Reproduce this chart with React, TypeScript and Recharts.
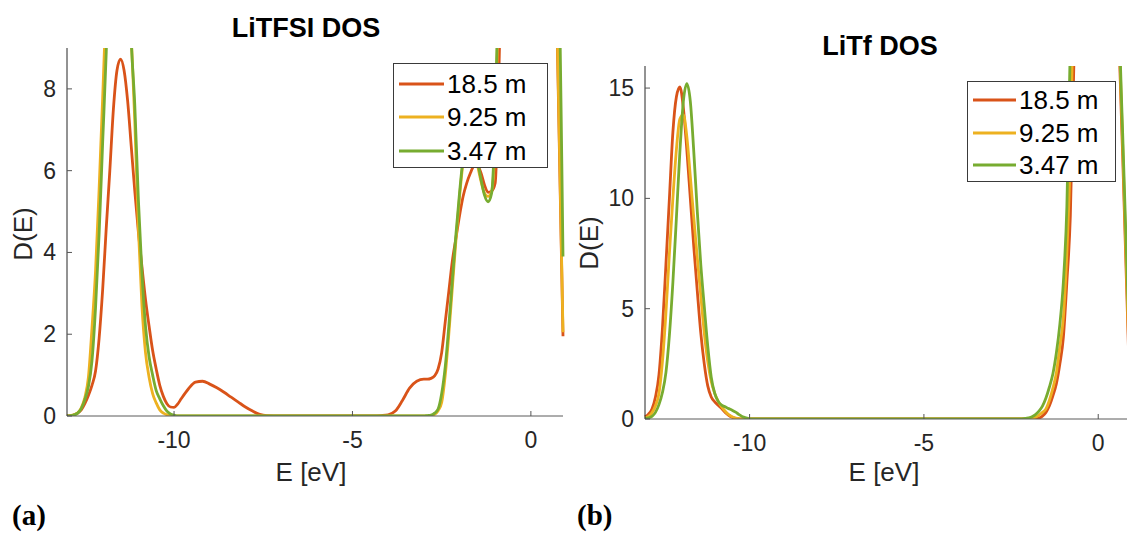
import React from 'react';
import { LineChart, Line, XAxis, YAxis, Legend } from 'recharts';

// LiTFSI: energy grid (eV) and D(E) for each concentration
const energyA = [
  -13.0, -12.9, -12.8, -12.7, -12.6, -12.5, -12.4, -12.3, -12.2, -12.1,
  -12.0, -11.9, -11.8, -11.7, -11.6, -11.5, -11.4, -11.3, -11.2, -11.1,
  -11.0, -10.9, -10.8, -10.7, -10.6, -10.5, -10.4, -10.3, -10.2, -10.1,
  -10.0, -9.9, -9.8, -9.6, -9.4, -9.2, -9.0, -8.8, -8.6, -8.4,
  -8.2, -8.0, -7.8, -7.6, -7.4, -7.0, -6.0, -5.0, -4.4, -4.2,
  -4.0, -3.8, -3.6, -3.4, -3.2, -3.0, -2.9, -2.8, -2.7, -2.6,
  -2.5, -2.4, -2.3, -2.2, -2.1, -2.0, -1.9, -1.8, -1.7, -1.6,
  -1.5, -1.4, -1.3, -1.2, -1.1, -1.0, -0.9, -0.8, -0.6, -0.3,
  0.0, 0.3, 0.6, 0.7, 0.9,
];
const dos185A = [
  0.0, 0.01, 0.03, 0.07, 0.15, 0.3, 0.5, 0.75, 1.1, 1.9,
  3.1, 4.6, 6.0, 7.5, 8.45, 8.73, 8.45, 7.7, 6.6, 5.5,
  4.5, 3.65, 2.85, 2.2, 1.6, 1.15, 0.75, 0.48, 0.3, 0.22,
  0.21, 0.29, 0.42, 0.66, 0.83, 0.85, 0.78, 0.69, 0.58, 0.46,
  0.34, 0.22, 0.12, 0.04, 0.01, 0, 0, 0, 0, 0.01,
  0.03, 0.12, 0.38, 0.68, 0.85, 0.9, 0.9, 0.92, 0.98, 1.15,
  1.55, 2.3, 3.05, 3.8, 4.35, 4.9, 5.37, 5.69, 5.93, 6.1,
  6.12, 5.95, 5.65, 5.47, 5.5, 5.7, 8.3, 12, 14, 15,
  15, 14, 12.5, 11, 1.95,
];
const dos925A = [
  0.0, 0.01, 0.03, 0.08, 0.2, 0.45, 0.95, 2.15, 3.55, 5.55,
  7.8, 10.2, 13, 15.5, 16.5, 16, 14, 11.5, 9.3, 7.2,
  4.6, 2.7, 1.55, 0.95, 0.55, 0.32, 0.15, 0.07, 0.03, 0.01,
  0, 0, 0, 0, 0, 0, 0, 0, 0, 0,
  0, 0, 0, 0, 0, 0, 0, 0, 0, 0,
  0, 0, 0, 0, 0, 0, 0, 0.01, 0.04, 0.13,
  0.33, 1.0, 2.0, 3.15, 4.3, 5.35, 6.2, 6.6, 6.7, 6.5,
  6.15, 5.75, 5.45, 5.37, 5.5, 6.8, 10.5, 13, 15, 16,
  15.5, 14.5, 13, 11.2, 2.05,
];
const dos347A = [
  0.0, 0.01, 0.03, 0.07, 0.18, 0.4, 0.72, 1.35, 2.65, 4.45,
  6.7, 8.9, 12, 15, 16.8, 16.5, 14.5, 12, 9.2, 7.6,
  5.3, 3.5, 2.2, 1.45, 1.0, 0.62, 0.42, 0.25, 0.12, 0.05,
  0.02, 0, 0, 0, 0, 0, 0, 0, 0, 0,
  0, 0, 0, 0, 0, 0, 0, 0, 0, 0,
  0, 0, 0, 0, 0, 0, 0.01, 0.02, 0.07, 0.17,
  0.55, 1.21, 2.2, 3.35, 4.45, 5.45, 6.3, 6.7, 6.8, 6.6,
  6.25, 5.8, 5.4, 5.24, 5.45, 7.3, 11, 14, 16, 17,
  16.5, 15.5, 14.5, 14, 3.9,
];

// LiTf: energy grid (eV) and D(E) for each concentration
const energyB = [
  -13.0, -12.9, -12.8, -12.7, -12.6, -12.5, -12.4, -12.3, -12.2, -12.1,
  -12.0, -11.9, -11.8, -11.7, -11.6, -11.5, -11.4, -11.3, -11.2, -11.1,
  -11.0, -10.9, -10.8, -10.7, -10.6, -10.5, -10.4, -10.3, -10.2, -10.1,
  -10.0, -9.8, -9.0, -7.0, -5.0, -3.0, -2.4, -2.2, -2.0, -1.9,
  -1.8, -1.7, -1.6, -1.5, -1.4, -1.3, -1.2, -1.1, -1.0, -0.9,
  -0.8, -0.7, -0.6, -0.3, 0.0, 0.3, 0.5, 0.6, 0.7, 0.9,
];
const dos185B = [
  0.1, 0.22, 0.45, 1.0, 2.0, 4.1, 7.0, 10.0, 13.0, 14.6,
  15.05, 14.1, 12.2, 10.0, 7.8, 5.8, 3.9, 2.5, 1.5, 1.0,
  0.78, 0.62, 0.47, 0.3, 0.17, 0.08, 0.03, 0.01, 0, 0,
  0, 0, 0, 0, 0, 0, 0, 0, 0, 0,
  0, 0.04, 0.13, 0.3, 0.6, 1.05, 1.6, 2.5, 3.7, 6.2,
  9.2, 16, 22, 28, 30, 28, 24, 17, 12, 1.5,
];
const dos925B = [
  0.05, 0.12, 0.28, 0.6, 1.16, 2.6, 4.8, 7.5, 10.0, 12.2,
  13.6, 13.8, 12.8, 11.0, 9.1, 7.3, 5.6, 3.9, 2.6, 1.7,
  1.16, 0.8, 0.55, 0.35, 0.2, 0.1, 0.04, 0.01, 0, 0,
  0, 0, 0, 0, 0, 0, 0, 0, 0.01, 0.03,
  0.08, 0.18, 0.3, 0.46, 0.85, 1.4, 2.1, 3.3, 4.6, 7.5,
  12, 20, 26, 30, 31, 29, 25, 17.5, 12.5, 2,
];
const dos347B = [
  0.02, 0.05, 0.12, 0.3, 0.65, 1.2, 2.1, 3.8, 6.2, 9.1,
  12.1, 14.4, 15.2, 14.4, 12.1, 9.4, 7.0, 5.1, 3.3, 1.9,
  1.16, 0.8, 0.63, 0.55, 0.47, 0.4, 0.31, 0.2, 0.1, 0.05,
  0.01, 0, 0, 0, 0, 0, 0, 0.01, 0.05, 0.1,
  0.2, 0.36, 0.58, 0.95, 1.45, 2.05, 3.0, 4.3, 6.2, 9.6,
  17, 24, 28, 31, 32, 30, 26, 18, 13, 3,
];

const xTicks = [-10, -5, 0];
const yTicksA = [0, 2, 4, 6, 8];
const yTicksB = [0, 5, 10, 15];

const seriesKeys = ['d185', 'd925', 'd347'];
const seriesNames = ['18.5 m', '9.25 m', '3.47 m'];
const seriesColors = ['#D95319', '#EDB120', '#77AC30'];

const FONT = '"Liberation Sans", Arial, Helvetica, sans-serif';
const SERIF = '"Liberation Serif", "DejaVu Serif", serif';
const INK = '#262626';

interface Row {
  e: number;
  d185: number;
  d925: number;
  d347: number;
}

const buildRows = (energy: number[], a: number[], b: number[], c: number[]): Row[] =>
  energy.map((e, i) => ({ e, d185: a[i], d925: b[i], d347: c[i] }));

const rowsA = buildRows(energyA, dos185A, dos925A, dos347A);
const rowsB = buildRows(energyB, dos185B, dos925B, dos347B);

interface LegendBox {
  left: number;
  top: number;
  width: number;
  height: number;
  firstRow: number;
  rowGap: number;
  lineStart: number;
  lineEnd: number;
}

interface PanelProps {
  rows: Row[];
  left: number;
  width: number;
  height: number;
  plotLeft: number;
  plotRight: number;
  plotTop: number;
  plotBottom: number;
  yMax: number;
  yTicks: number[];
  legend: LegendBox;
}

const DosPanel: React.FC<PanelProps> = (p) => {
  // MATLAB-style ticks point into the axes
  const renderXTick = (props: any) => (
    <g>
      <line x1={props.x} x2={props.x} y1={p.plotBottom} y2={p.plotBottom - 5} stroke="#555" />
      <text x={props.x} y={p.plotBottom + 24} textAnchor="middle" dominantBaseline="central"
        fontSize={23} fontFamily={FONT} fill={INK}>{props.payload.value}</text>
    </g>
  );
  const renderYTick = (props: any) => (
    <g>
      <line x1={p.plotLeft} x2={p.plotLeft + 5} y1={props.y} y2={props.y} stroke="#555" />
      <text x={p.plotLeft - 11} y={props.y} textAnchor="end" dominantBaseline="central"
        fontSize={23} fontFamily={FONT} fill={INK}>{props.payload.value}</text>
    </g>
  );
  const lg = p.legend;
  const renderLegend = (props: any) => {
    // keep the plotting order rather than the alphabetical one
    const items = [...(props.payload || [])].sort(
      (a: any, b: any) => seriesNames.indexOf(a.value) - seriesNames.indexOf(b.value),
    );
    return (
      <div style={{
        position: 'relative', width: lg.width, height: lg.height, boxSizing: 'border-box',
        border: '1px solid #3a3a3a', background: '#fff',
      }}>
        {items.map((item: any, i: number) => (
          <div key={item.value} style={{
            position: 'absolute', left: 0, top: lg.firstRow + i * lg.rowGap - 15, height: 30,
            display: 'flex', alignItems: 'center',
          }}>
            <svg width={lg.lineEnd} height={30} style={{ display: 'block' }}>
              <line x1={lg.lineStart} x2={lg.lineEnd} y1={15} y2={15} stroke={item.color} strokeWidth={2.8} />
            </svg>
            <span style={{ fontFamily: FONT, fontSize: 26, color: '#000', marginLeft: 3, lineHeight: '30px' }}>
              {item.value}
            </span>
          </div>
        ))}
      </div>
    );
  };

  return (
    <div style={{ position: 'absolute', left: p.left, top: 0 }}>
      <LineChart
        width={p.width}
        height={p.height}
        data={p.rows}
        margin={{ top: p.plotTop, right: p.width - p.plotRight, bottom: p.height - p.plotBottom - 30, left: 0 }}
      >
        <XAxis dataKey="e" type="number" domain={[-13, 0.9]} ticks={xTicks} interval={0} height={30}
          tickLine={false} axisLine={{ stroke: '#5a5a5a' }} tick={renderXTick} />
        <YAxis type="number" domain={[0, p.yMax]} ticks={p.yTicks} interval={0} width={p.plotLeft}
          allowDataOverflow tickLine={false} axisLine={{ stroke: INK }} tick={renderYTick} />
        <Legend layout="vertical" align="center" verticalAlign="middle" content={renderLegend}
          wrapperStyle={{ left: lg.left, top: lg.top, width: lg.width, height: lg.height }} />
        {seriesKeys.map((k, i) => (
          <Line key={k} type="monotone" dataKey={k} name={seriesNames[i]} stroke={seriesColors[i]}
            strokeWidth={2.8} dot={false} activeDot={false} isAnimationActive={false} />
        ))}
      </LineChart>
    </div>
  );
};

const App: React.FC = () => {
  return (
    <div style={{
      position: 'absolute', left: 0, top: 0, width: 1127, height: 534,
      overflow: 'hidden', background: '#fff',
    }}>
      <DosPanel
        rows={rowsA} left={0} width={600} height={500}
        plotLeft={67} plotRight={563} plotTop={48} plotBottom={416}
        yMax={9} yTicks={yTicksA}
        legend={{ left: 393, top: 63, width: 155, height: 105, firstRow: 19.7, rowGap: 33.7, lineStart: 5, lineEnd: 50 }}
      />
      <DosPanel
        rows={rowsB} left={560} width={600} height={500}
        plotLeft={85} plotRight={569.6} plotTop={66} plotBottom={419}
        yMax={16} yTicks={yTicksB}
        legend={{ left: 407, top: 81, width: 149, height: 101, firstRow: 18, rowGap: 32.5, lineStart: 5, lineEnd: 48 }}
      />
      {/* titles, axis labels and panel tags */}
      <svg width={1127} height={534} style={{ position: 'absolute', left: 0, top: 0, pointerEvents: 'none' }}>
        <text x={306} y={36.7} textAnchor="middle" fontFamily={FONT} fontWeight="bold" fontSize={27} fill="#000">LiTFSI DOS</text>
        <text x={880} y={55} textAnchor="middle" fontFamily={FONT} fontWeight="bold" fontSize={27} fill="#000">LiTf DOS</text>
        <text x={311} y={481} textAnchor="middle" fontFamily={FONT} fontSize={26} fill={INK}>E [eV]</text>
        <text x={884} y={481} textAnchor="middle" fontFamily={FONT} fontSize={26} fill={INK}>E [eV]</text>
        <text transform="translate(32, 234) rotate(-90)" textAnchor="middle" fontFamily={FONT} fontSize={26} fill={INK}>D(E)</text>
        <text transform="translate(598, 243) rotate(-90)" textAnchor="middle" fontFamily={FONT} fontSize={26} fill={INK}>D(E)</text>
        <text x={12} y={525} fontFamily={SERIF} fontWeight="bold" fontSize={29} fill="#000">(a)</text>
        <text x={577} y={525} fontFamily={SERIF} fontWeight="bold" fontSize={29} fill="#000">(b)</text>
      </svg>
    </div>
  );
};

export default App;
